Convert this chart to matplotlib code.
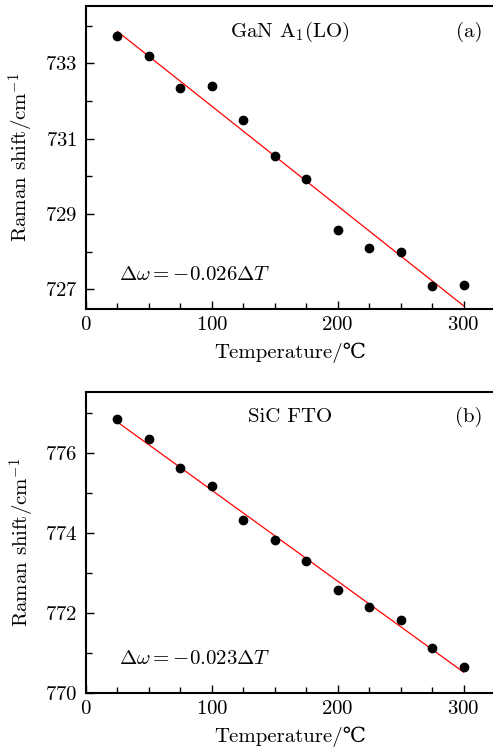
import numpy as np
import matplotlib
matplotlib.use("Agg")
import matplotlib.pyplot as plt
from matplotlib.ticker import MultipleLocator


OUTPUT_IMAGE_NAME = "out.png"

# temperature steps, same for both modes
temperature = [25, 50, 75, 100, 125, 150, 175, 200, 225, 250, 275, 300]

gan_shift = [733.73, 733.19, 732.34, 732.40, 731.50, 730.55,
             729.92, 728.58, 728.09, 727.98, 727.08, 727.11]
sic_shift = [776.83, 776.33, 775.61, 775.17, 774.33, 773.83,
             773.30, 772.58, 772.15, 771.82, 771.14, 770.65]

panels = [
    {"y": gan_shift, "title": r"GaN A$_1$(LO)", "tag": "(a)",
     "eq": r"$\Delta\omega=-0.026\Delta T$", "ylim": (726.48, 734.52),
     "yticks": [727, 729, 731, 733], "eq_y": 727.38},
    {"y": sic_shift, "title": "SiC FTO", "tag": "(b)",
     "eq": r"$\Delta\omega=-0.023\Delta T$", "ylim": (770.0, 777.52),
     "yticks": [770, 772, 774, 776], "eq_y": 770.85},
]

plt.rcParams["font.family"] = ["cmr10", "DejaVu Serif"]
plt.rcParams["mathtext.fontset"] = "cm"
plt.rcParams["axes.formatter.use_mathtext"] = True
plt.rcParams["font.size"] = 15


def draw_panel(ax, panel):
    t = np.array(temperature, dtype=float)
    y = np.array(panel["y"], dtype=float)
    k, b = np.polyfit(t, y, 1)
    ax.plot(t, k * t + b, color="red", lw=0.9, zorder=2)
    ax.plot(t, y, "o", color="black", ms=6, zorder=3)

    ax.set_xlim(0, 325)
    ax.set_ylim(*panel["ylim"])
    ax.set_xticks([0, 100, 200, 300])
    ax.xaxis.set_minor_locator(MultipleLocator(25))
    ax.set_yticks(panel["yticks"])
    ax.yaxis.set_minor_locator(MultipleLocator(1))
    ax.tick_params(which="both", direction="in", top=False, right=False,
                   width=1.0, labelsize=15)
    ax.tick_params(axis="x", pad=5)
    ax.tick_params(axis="y", pad=6)
    ax.tick_params(which="major", length=6)
    ax.tick_params(which="minor", length=4)
    for side in ("left", "bottom", "top"):
        ax.spines[side].set_linewidth(1.5)
    ax.spines["right"].set_visible(False)

    ax.set_xlabel("Temperature/℃", fontsize=15, labelpad=6)
    ax.set_ylabel(r"Raman shift/cm$^{-1}$", fontsize=15, labelpad=6)

    span = panel["ylim"][1] - panel["ylim"][0]
    ax.text(162, panel["ylim"][1] - 0.085 * span,
            panel["title"], ha="center", va="center", fontsize=15)
    ax.text(315, panel["ylim"][1] - 0.085 * span,
            panel["tag"], ha="right", va="center", fontsize=15)
    ax.text(26, panel["eq_y"], panel["eq"], ha="left", va="center", fontsize=15)


def main():
    W, H = 493, 751
    fig = plt.figure(figsize=(W / 100, H / 100), dpi=100)
    boxes = [(86, 6, 495, 309), (86, 391.7, 495, 693.3)]
    for panel, (x0, y0, x1, y1) in zip(panels, boxes):
        ax = fig.add_axes([x0 / W, 1 - y1 / H, (x1 - x0) / W, (y1 - y0) / H])
        draw_panel(ax, panel)
    fig.savefig(OUTPUT_IMAGE_NAME, dpi=100)
    plt.close(fig)


if __name__ == "__main__":
    main()
